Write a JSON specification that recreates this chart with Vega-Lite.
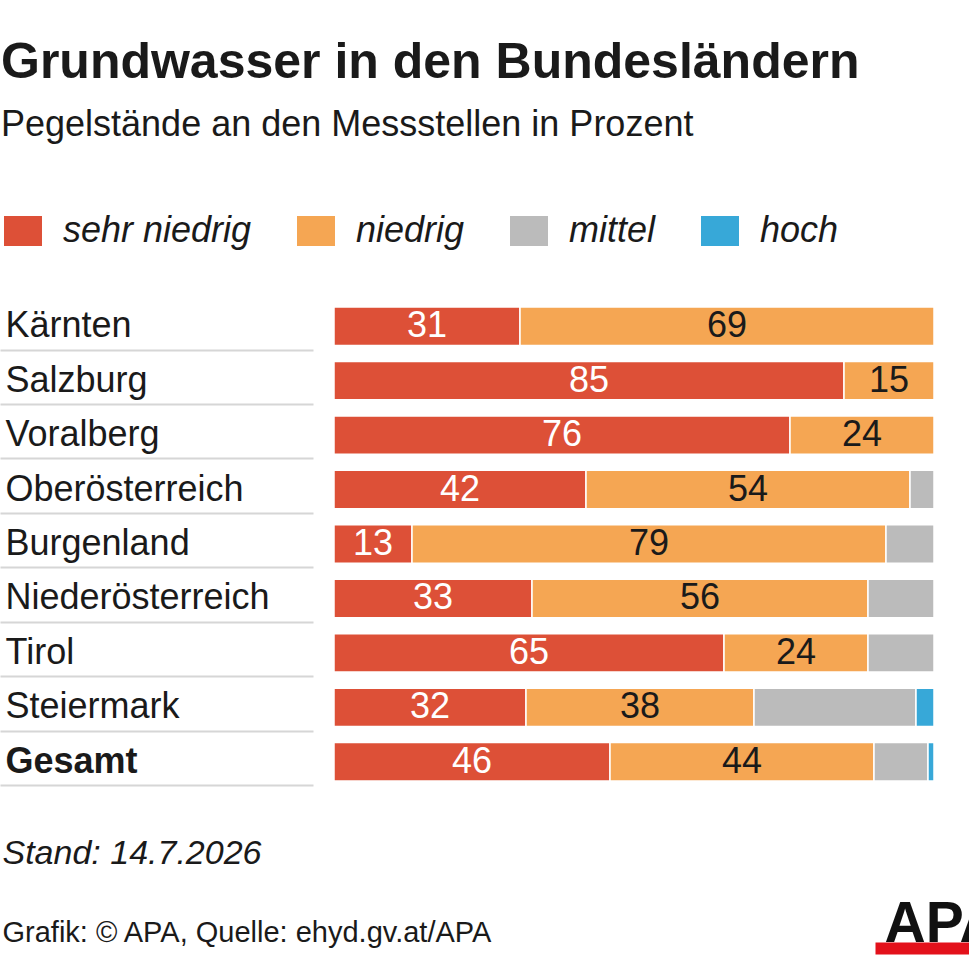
{
  "$schema": "https://vega.github.io/schema/vega-lite/v6.json",
  "width": 600,
  "height": 490,
  "autosize": {"type": "none"},
  "padding": {"left": 334, "top": 299, "right": 35, "bottom": 180},
  "background": "white",
  "title": {
    "text": "Grundwasser in den Bundesländern",
    "subtitle": "Pegelstände an den Messstellen in Prozent",
    "anchor": "start",
    "frame": "bounds",
    "dx": 2,
    "font": "Liberation Sans",
    "fontSize": 50,
    "fontWeight": "bold",
    "color": "#1a1a1a",
    "subtitleFont": "Liberation Sans",
    "subtitleFontSize": 36,
    "subtitleColor": "#1a1a1a",
    "subtitlePadding": 20,
    "offset": 70
  },
  "data": {
    "values": [
      {"land": "Kärnten", "kat": "sehr niedrig", "wert": 31},
      {"land": "Kärnten", "kat": "niedrig", "wert": 69},
      {"land": "Salzburg", "kat": "sehr niedrig", "wert": 85},
      {"land": "Salzburg", "kat": "niedrig", "wert": 15},
      {"land": "Voralberg", "kat": "sehr niedrig", "wert": 76},
      {"land": "Voralberg", "kat": "niedrig", "wert": 24},
      {"land": "Oberösterreich", "kat": "sehr niedrig", "wert": 42},
      {"land": "Oberösterreich", "kat": "niedrig", "wert": 54},
      {"land": "Oberösterreich", "kat": "mittel", "wert": 4},
      {"land": "Burgenland", "kat": "sehr niedrig", "wert": 13},
      {"land": "Burgenland", "kat": "niedrig", "wert": 79},
      {"land": "Burgenland", "kat": "mittel", "wert": 8},
      {"land": "Niederösterreich", "kat": "sehr niedrig", "wert": 33},
      {"land": "Niederösterreich", "kat": "niedrig", "wert": 56},
      {"land": "Niederösterreich", "kat": "mittel", "wert": 11},
      {"land": "Tirol", "kat": "sehr niedrig", "wert": 65},
      {"land": "Tirol", "kat": "niedrig", "wert": 24},
      {"land": "Tirol", "kat": "mittel", "wert": 11},
      {"land": "Steiermark", "kat": "sehr niedrig", "wert": 32},
      {"land": "Steiermark", "kat": "niedrig", "wert": 38},
      {"land": "Steiermark", "kat": "mittel", "wert": 27},
      {"land": "Steiermark", "kat": "hoch", "wert": 3},
      {"land": "Gesamt", "kat": "sehr niedrig", "wert": 46},
      {"land": "Gesamt", "kat": "niedrig", "wert": 44},
      {"land": "Gesamt", "kat": "mittel", "wert": 9},
      {"land": "Gesamt", "kat": "hoch", "wert": 1}
    ]
  },
  "encoding": {
    "y": {
      "field": "land",
      "type": "nominal",
      "sort": null,
      "scale": {"paddingInner": 0.2945, "paddingOuter": 0.147},
      "axis": {
        "title": "Stand: 14.7.2026",
        "titleAngle": 0,
        "titleAlign": "left",
        "titleBaseline": "alphabetic",
        "titleX": -311,
        "titleY": 564,
        "titleFont": "Liberation Sans",
        "titleFontSize": 34,
        "titleFontStyle": "italic",
        "titleFontWeight": "normal",
        "titleColor": "#1a1a1a",
        "offset": 21,
        "domain": false,
        "grid": false,
        "ticks": true,
        "tickSize": 313,
        "tickWidth": 2,
        "tickColor": "#d6d6d6",
        "bandPosition": 1.12,
        "labelAlign": "left",
        "labelBaseline": "middle",
        "labelPadding": -5,
        "labelFont": "Liberation Sans",
        "labelFontSize": 36,
        "labelColor": "#1a1a1a",
        "labelLimit": 400,
        "labelFontWeight": {
          "condition": {"test": "datum.value === 'Gesamt'", "value": "bold"},
          "value": "normal"
        }
      }
    }
  },
  "layer": [
    {
      "mark": {"type": "bar", "stroke": "white", "strokeWidth": 1.5},
      "encoding": {
        "x": {
          "field": "wert",
          "type": "quantitative",
          "stack": "zero",
          "scale": {"domain": [0, 100]},
          "axis": {
            "values": [100],
            "title": "Grafik: © APA, Quelle: ehyd.gv.at/APA",
            "titleX": -332,
            "titleY": -1,
            "titleAlign": "left",
            "titleBaseline": "alphabetic",
            "titleFont": "Liberation Sans",
            "titleFontSize": 29,
            "titleFontWeight": "normal",
            "titleColor": "#1a1a1a",
            "offset": 153,
            "domain": false,
            "grid": false,
            "tickSize": 12,
            "tickWidth": 200,
            "tickColor": "#e3111b",
            "tickOffset": 41,
            "labelExpr": "'APA'",
            "labelAlign": "left",
            "labelBaseline": "alphabetic",
            "labelPadding": -13,
            "labelOffset": -91,
            "labelFont": "Liberation Sans",
            "labelFontSize": 57,
            "labelFontWeight": "bold",
            "labelColor": "#111111",
            "labelFlush": false,
            "labelOverlap": false,
            "labelBound": false
          }
        },
        "color": {
          "field": "kat",
          "type": "nominal",
          "scale": {
            "domain": ["sehr niedrig", "niedrig", "mittel", "hoch"],
            "range": ["#dd5037", "#f5a653", "#bbbbbb", "#37a8d8"]
          },
          "legend": {
            "title": null,
            "orient": "none",
            "legendX": -333,
            "legendY": -86,
            "direction": "horizontal",
            "symbolType": "M-1,-1H1.533V1H-1Z",
            "symbolSize": 900,
            "symbolStrokeWidth": 0,
            "symbolOpacity": 1,
            "labelFont": "Liberation Sans",
            "labelFontSize": 36,
            "labelFontStyle": "italic",
            "labelColor": "#1a1a1a",
            "labelOffset": 26,
            "labelLimit": 400,
            "columnPadding": 42,
            "padding": 0
          }
        },
        "order": {"field": "kat", "sort": "descending"}
      }
    },
    {
      "transform": [{"filter": {"field": "kat", "oneOf": ["sehr niedrig", "niedrig"]}}],
      "mark": {"type": "text", "font": "Liberation Sans", "fontSize": 36, "baseline": "middle"},
      "encoding": {
        "x": {"field": "wert", "type": "quantitative", "stack": "zero", "bandPosition": 0.5},
        "detail": {"field": "kat"},
        "order": {"field": "kat", "sort": "descending"},
        "text": {"field": "wert", "type": "quantitative"},
        "color": {
          "condition": {"test": "datum.kat === 'sehr niedrig'", "value": "white"},
          "value": "#1a1a1a"
        }
      }
    }
  ],
  "config": {
    "font": "Liberation Sans",
    "view": {"stroke": null}
  }
}
